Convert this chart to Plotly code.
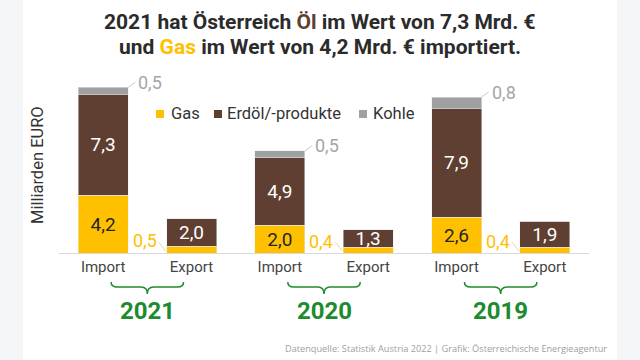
import plotly.graph_objects as go

# ---------------- data ----------------
years = ["2021", "2020", "2019"]
flows = ["Import", "Export"]
gas_import = [4.2, 2.0, 2.6]
gas_export = [0.5, 0.4, 0.4]
oil_import = [7.3, 4.9, 7.9]
oil_export = [2.0, 1.3, 1.9]
coal_import = [0.5, 0.5, 0.8]
coal_export = [0.0, 0.0, 0.0]
series_names = ["Gas", "Erdöl/-produkte", "Kohle"]
title_line1 = "2021 hat Österreich <span style='color:#5E3F31'>Öl</span> im Wert von 7,3 Mrd. €"
title_line2 = "und <span style='color:#FFC000'>Gas</span> im Wert von 4,2 Mrd. € importiert."
y_title = "Milliarden EURO"
source_text = "Datenquelle: Statistik Austria 2022 | Grafik: Österreichische Energieagentur"

# ---------------- style ----------------
C_GAS = "#FFC000"
C_OIL = "#5E3F31"
C_COAL = "#A0A0A0"
C_GREEN = "#1E8B30"
FONT = "Roboto"
BAR_W = 0.566
series_colors = [C_GAS, C_OIL, C_COAL]


def fmt(v):
    return f"{v:.1f}".replace(".", ",")


# interleave Import / Export per year
xpos, ticktext, gas, oil, coal = [], [], [], [], []
for i, y in enumerate(years):
    for j, f in enumerate(flows):
        xpos.append(2 * i + j)
        ticktext.append(f)
    gas += [gas_import[i], gas_export[i]]
    oil += [oil_import[i], oil_export[i]]
    coal += [coal_import[i], coal_export[i]]

is_import = [k % 2 == 0 for k in range(len(xpos))]

fig = go.Figure()
fig.add_bar(x=xpos, y=gas, name=series_names[0], marker_color=C_GAS, width=BAR_W,
            text=[fmt(v) if imp else "" for v, imp in zip(gas, is_import)],
            textposition="inside", insidetextanchor="middle",
            textfont=dict(color="#262626", size=19, family=FONT),
            hoverinfo="skip")
fig.add_bar(x=xpos, y=oil, name=series_names[1], marker_color=C_OIL, width=BAR_W,
            text=[fmt(v) for v in oil],
            textposition="inside", insidetextanchor="middle",
            textfont=dict(color="white", size=19, family=FONT),
            hoverinfo="skip")
fig.add_bar(x=xpos, y=coal, name=series_names[2], marker_color=C_COAL, width=BAR_W,
            textposition="none", hoverinfo="skip")

annotations = []
shapes = []

L, R, T, B = 59, 51, 80, 107
PW = 640 - L - R
PH = 360 - T - B


def px_x(p):
    return (p - L) / PW


def px_y(p):
    return (360 - B - p) / PH


# background strips at left/right edges
shapes.append(dict(type="rect", xref="paper", yref="paper", x0=px_x(0), x1=px_x(23),
                   y0=px_y(360), y1=px_y(0), fillcolor="#F4F5F7", line_width=0, layer="below"))
shapes.append(dict(type="rect", xref="paper", yref="paper", x0=px_x(617), x1=px_x(640),
                   y0=px_y(360), y1=px_y(0), fillcolor="#F4F5F7", line_width=0, layer="below"))

for k, x in enumerate(xpos):
    if is_import[k]:
        total = gas[k] + oil[k] + coal[k]
        shapes.append(dict(type="line", xref="x", yref="y", xsizemode="pixel", ysizemode="pixel",
                           xanchor=x + BAR_W / 2, yanchor=total, x0=0, y0=0, x1=7, y1=5,
                           line=dict(color="#C8C8C8", width=1)))
        annotations.append(dict(x=x + BAR_W / 2, y=total, xref="x", yref="y", text=fmt(coal[k]),
                                showarrow=False, xanchor="left", yanchor="middle", xshift=8, yshift=5,
                                font=dict(color="#A6A6A6", size=18, family=FONT)))
    else:
        shapes.append(dict(type="line", xref="x", yref="y", xsizemode="pixel", ysizemode="pixel",
                           xanchor=x - BAR_W / 2, yanchor=0, x0=-1, y0=2, x1=-8, y1=11,
                           line=dict(color="#E8D9A8", width=1)))
        annotations.append(dict(x=x - BAR_W / 2, y=gas[k], xref="x", yref="y", text=fmt(gas[k]),
                                showarrow=False, xanchor="right", yanchor="middle", xshift=-8, yshift=6,
                                font=dict(color=C_GAS, size=18, family=FONT)))

# manual legend (squares + labels)
leg_sq_x = [156, 214, 359]
leg_tx_x = [170, 226, 372]
for name, col, sx, tx in zip(series_names, series_colors, leg_sq_x, leg_tx_x):
    shapes.append(dict(type="rect", xref="paper", yref="paper", x0=px_x(sx), x1=px_x(sx + 8),
                       y0=px_y(118), y1=px_y(110), fillcolor=col, line_width=0))
    annotations.append(dict(x=px_x(tx - 1), y=px_y(113), xref="paper", yref="paper", text=name,
                            showarrow=False, xanchor="left", yanchor="middle",
                            font=dict(color="#333333", size=16.5, family=FONT)))

# braces and year labels
for i, y in enumerate(years):
    c = 2 * i + 0.5
    a, b = c - 0.41, c + 0.41
    yt, ym, yb = px_y(282), px_y(287), px_y(294)
    r = 0.07
    path = (f"M {a},{yt} Q {a},{ym} {a + r},{ym} L {c - r},{ym} Q {c},{ym} {c},{yb} "
            f"Q {c},{ym} {c + r},{ym} L {b - r},{ym} Q {b},{ym} {b},{yt}")
    shapes.append(dict(type="path", xref="x", yref="paper", path=path,
                       line=dict(color=C_GREEN, width=1.5)))
    annotations.append(dict(x=c, y=px_y(311), xref="x", yref="paper", text=f"<b>{y}</b>",
                            showarrow=False, xanchor="center", yanchor="middle",
                            font=dict(color=C_GREEN, size=24, family=FONT)))

# title
annotations.append(dict(x=px_x(320), y=px_y(22), xref="paper", yref="paper",
                        text=f"<b>{title_line1}</b>", showarrow=False, xanchor="center", yanchor="middle",
                        font=dict(color="#2B2B2B", size=21, family=FONT)))
annotations.append(dict(x=px_x(320), y=px_y(47), xref="paper", yref="paper",
                        text=f"<b>{title_line2}</b>", showarrow=False, xanchor="center", yanchor="middle",
                        font=dict(color="#2B2B2B", size=21, family=FONT)))
# y axis title
annotations.append(dict(x=px_x(37), y=px_y(165), xref="paper", yref="paper", text=y_title,
                        showarrow=False, textangle=-90, xanchor="center", yanchor="middle",
                        font=dict(color="#333333", size=16.5, family=FONT)))
# source
annotations.append(dict(x=px_x(609), y=px_y(348), xref="paper", yref="paper", text=source_text,
                        showarrow=False, xanchor="right", yanchor="middle",
                        font=dict(color="#A0A0A0", size=9.2, family="Open Sans")))

fig.update_layout(
    width=640, height=360,
    margin=dict(l=L, r=R, t=T, b=B, pad=0),
    barmode="stack",
    separators=", ",
    paper_bgcolor="white", plot_bgcolor="white",
    font=dict(family=FONT, color="#333333"),
    uniformtext=dict(minsize=19, mode="show"),
    showlegend=False,
    xaxis=dict(range=[-0.5, 5.5], tickmode="array", tickvals=xpos, ticktext=ticktext,
               showgrid=False, zeroline=False, showline=True, linecolor="#DADADA", linewidth=1,
               ticks="", tickfont=dict(size=15, color="#444444", family=FONT), fixedrange=True),
    yaxis=dict(range=[0, PH / 13.8], showgrid=False, zeroline=False, showticklabels=False,
               showline=False, ticks="", fixedrange=True),
    shapes=shapes,
    annotations=annotations,
)

fig.write_html("out.html", config={"displayModeBar": False},
               post_script="document.body.style.margin='0';document.body.style.padding='0';")
